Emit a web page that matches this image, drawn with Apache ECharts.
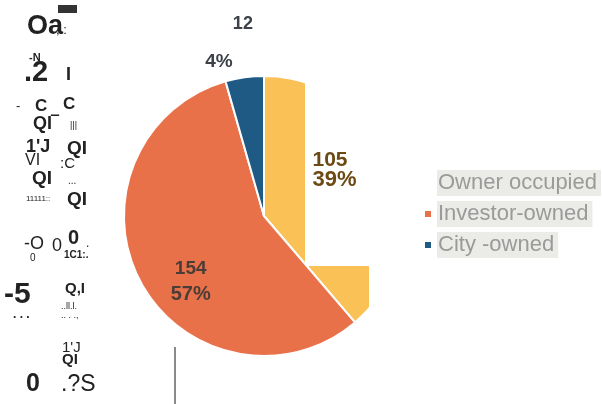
<!DOCTYPE html>
<html>
<head>
<meta charset="utf-8">
<script src="https://cdn.jsdelivr.net/npm/echarts@6/dist/echarts.min.js"></script>
<style>
  html, body { margin: 0; padding: 0; background: #fff; }
  #chart { width: 602px; height: 404px; }
</style>
</head>
<body>
<div id="chart"></div>
<script>
// data
const categories = ['Owner occupied', 'Investor-owned', 'City -owned']
const counts = [105, 154, 12]
const shares = ['39%', '57%', '4%']
const sliceColors = ['#fac256', '#e8714a', '#1f5a85']
const labelColors = ['#6b4a16', '#4a3c36', '#3c4048']

// leftover scanner marks on the left side of the page
const scanNoise = [
  ['Oa', 27, 13, 27, true], [',.:', 56, 24, 13, false], ['-N', 29, 52, 11, true],
  ['.2', 24, 58, 29, true], ['I', 66, 66, 18, true],
  ['-', 16, 100, 13, false], ['C', 35, 98, 17, true], ['C', 63, 96, 17, true],
  ['QI‾', 33, 115, 18, true], ['|||', 70, 121, 9, false],
  ["1'J", 26, 138, 18, true], ['QI', 67, 139, 19, true],
  ['VI', 25, 153, 16, false], [':C', 60, 156, 15, false],
  ['QI', 32, 169, 19, true], ['...', 68, 176, 10, false],
  ['11111::', 26, 195, 8, false], ['QI', 67, 190, 19, true],
  ['-O', 24, 235, 18, false], ['0', 30, 253, 10, false], ['0', 52, 237, 18, false],
  ['0', 68, 228, 20, true], ['.', 86, 238, 12, false], ['1C1:.', 64, 250, 10, true],
  ['-5', 4, 280, 30, true], ['. . .', 13, 309, 12, true],
  ['Q,I', 65, 281, 15, true], ['..ll.l.', 61, 302, 9, false], ['.. . .,', 61, 311, 9, false],
  ["1'J", 62, 340, 15, false], ['QI', 62, 352, 15, true],
  ['0', 26, 372, 25, true], ['.?S', 61, 373, 23, false]
]

const labelOffsets = [[4, -21], [-9, 31], [-35, -101]]
const labelRich = [
  { v: { fontSize: 21, lineHeight: 20, align: 'left', padding: [0, 13, 0, 0] }, p: { fontSize: 22, lineHeight: 20, align: 'left' } },
  { v: { fontSize: 19, lineHeight: 25 }, p: { fontSize: 20, lineHeight: 25 } },
  { v: { fontSize: 18, lineHeight: 38, padding: [0, 0, 0, 48] }, p: { fontSize: 19, lineHeight: 38 } }
]

const chart = echarts.init(document.getElementById('chart'))

function labelFor(i) {
  const rich = {}
  Object.keys(labelRich[i]).forEach(k => {
    rich[k] = Object.assign({ color: labelColors[i], fontWeight: 'bold', fontFamily: 'Liberation Sans' }, labelRich[i][k])
  })
  return {
    show: true,
    position: 'inside',
    offset: labelOffsets[i],
    formatter: () => '{v|' + counts[i] + '}\n{p|' + shares[i] + '}',
    rich: rich
  }
}

// full pie, drawn below the white patches
const pieData = categories.map((name, i) => ({
  name: name,
  value: counts[i],
  itemStyle: { color: sliceColors[i] }
}))

// same pie, transparent, only used to carry the labels above the patches
const labelData = categories.map((name, i) => ({
  name: name,
  value: counts[i],
  itemStyle: { color: 'rgba(0,0,0,0)', borderWidth: 0 },
  label: labelFor(i)
}))

const noiseGraphics = scanNoise.map(n => ({
  type: 'text',
  x: n[1],
  y: n[2],
  z: 20,
  style: {
    text: n[0],
    fill: '#222',
    font: (n[4] ? 'bold ' : '') + n[3] + 'px "Liberation Sans Narrow", "Liberation Sans", sans-serif',
    verticalAlign: 'top'
  }
}))

const option = {
  animation: false,
  backgroundColor: '#fff',
  legend: {
    orient: 'vertical',
    left: 418,
    top: 165,
    z: 30,
    itemWidth: 8,
    itemHeight: 8,
    itemGap: 5,
    icon: 'rect',
    selectedMode: false,
    textStyle: {
      color: '#9a9a9a',
      fontSize: 22,
      fontFamily: 'Liberation Sans',
      backgroundColor: '#ebebe7',
      padding: [2, 4, 2, 1]
    },
    data: categories.map((name, i) => ({
      name: name,
      itemStyle: i === 0 ? { opacity: 0 } : { color: sliceColors[i] }
    }))
  },
  graphic: [
    // white patches that hide part of the yellow slice
    { type: 'rect', z: 10, shape: { x: 305, y: 0, width: 297, height: 266 }, style: { fill: '#fff' } },
    { type: 'rect', z: 10, shape: { x: 369, y: 266, width: 233, height: 138 }, style: { fill: '#fff' } },
    { type: 'rect', z: 20, shape: { x: 58, y: 5, width: 19, height: 8 }, style: { fill: '#333' } },
    { type: 'line', z: 20, shape: { x1: 175, y1: 347, x2: 175, y2: 404 }, style: { stroke: '#8a8a8a', lineWidth: 2 } }
  ].concat(noiseGraphics),
  series: [
    {
      type: 'pie',
      center: [264, 216],
      radius: 140,
      startAngle: 90,
      clockwise: true,
      z: 2,
      itemStyle: { borderColor: '#fff', borderWidth: 2 },
      label: { show: false },
      labelLine: { show: false },
      emphasis: { disabled: true },
      data: pieData
    },
    {
      type: 'pie',
      center: [264, 216],
      radius: 140,
      startAngle: 90,
      clockwise: true,
      z: 25,
      silent: true,
      labelLine: { show: false },
      emphasis: { disabled: true },
      data: labelData
    }
  ]
}

chart.setOption(option)
</script>
</body>
</html>
